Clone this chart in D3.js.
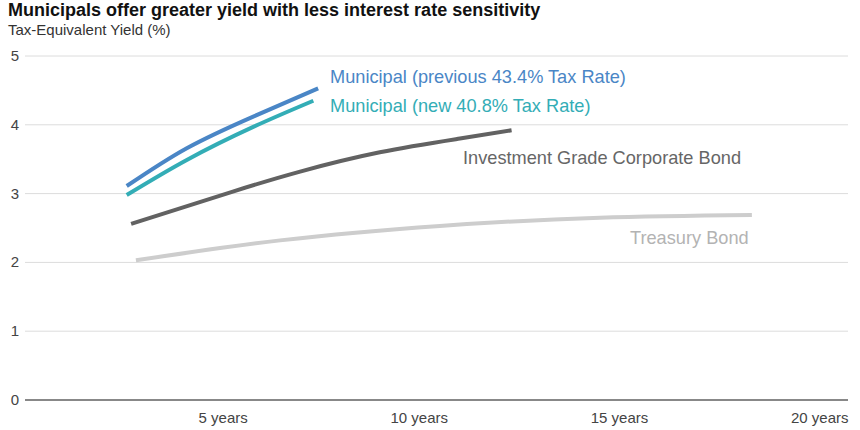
<!DOCTYPE html>
<html><head><meta charset="utf-8">
<script src="https://cdn.jsdelivr.net/npm/d3@7"></script>
<style>body{margin:0;background:#fff}svg{display:block;font-family:"Liberation Sans",Arial,sans-serif}</style>
</head><body><svg id="c" width="860" height="430"></svg>
<script>
const title = "Municipals offer greater yield with less interest rate sensitivity";
const subtitle = "Tax-Equivalent Yield (%)";
const yTicks = [0,1,2,3,4,5];
const xTicks = [5,10,15,20];
const xTickLabels = ["5 years","10 years","15 years","20 years"];

const muniPrev = [[1.99,3.11],[3.49,3.66],[5.15,4.12],[6.77,4.53]];
const muniNew  = [[1.99,2.98],[3.49,3.49],[5.15,3.97],[6.65,4.35]];
const corporate = [[2.1,2.56],[4.64,3.03],[6.32,3.32],[8.31,3.60],[10.31,3.80],[11.6,3.92]];
const treasury = [[2.22,2.03],[5.82,2.32],[9.81,2.53],[13.8,2.65],[17.6,2.69]];

const seriesNames = ["Municipal (previous 43.4% Tax Rate)","Municipal (new 40.8% Tax Rate)","Investment Grade Corporate Bond","Treasury Bond"];
const seriesData = [muniPrev, muniNew, corporate, treasury];
const lineColors = ["#4a86c6","#33adb6","#626262","#cdcdcd"];
const textColors = ["#4a86c6","#33adb6","#666666","#b3b3b3"];
const labelPos = [[330,83],[330,112],[463,164],[630,244]];

const svg = d3.select("#c");
const x = d3.scaleLinear().domain([0,20]).range([47,848]);
const y = d3.scaleLinear().domain([0,5]).range([400,56]);

svg.append("text").attr("x",8).attr("y",16).attr("font-size",18).attr("font-weight","bold").attr("fill","#111").text(title);
svg.append("text").attr("x",8).attr("y",35).attr("font-size",15).attr("fill","#333").text(subtitle);

const g = svg.append("g");
g.selectAll("line.grid").data(yTicks).join("line")
  .attr("x1",25).attr("x2",848)
  .attr("y1",d=>y(d)).attr("y2",d=>y(d))
  .attr("stroke",d=>d===0?"#888":"#dcdcdc")
  .attr("stroke-width",d=>d===0?2:1);
g.selectAll("text.yl").data(yTicks).join("text")
  .attr("x",19).attr("y",d=>y(d)+5).attr("text-anchor","end")
  .attr("font-size",15).attr("fill","#444").text(d=>d);

const xAxis = d3.axisBottom(x).tickValues(xTicks).tickSize(0).tickFormat((d,i)=>xTickLabels[i]);
const xa = svg.append("g").attr("transform","translate(0,409)").call(xAxis);
xa.select(".domain").remove();
xa.selectAll("text").attr("text-anchor","end").attr("font-size",15).attr("fill","#444")
  .attr("font-family","'Liberation Sans',Arial,sans-serif");

const line = d3.line().x(d=>x(d[0])).y(d=>y(d[1])).curve(d3.curveNatural);
svg.selectAll("path.s").data(seriesData).join("path")
  .attr("d",line).attr("fill","none")
  .attr("stroke",(d,i)=>lineColors[i]).attr("stroke-width",4);

svg.selectAll("text.lab").data(seriesNames).join("text")
  .attr("x",(d,i)=>labelPos[i][0]).attr("y",(d,i)=>labelPos[i][1])
  .attr("font-size",18.2).attr("fill",(d,i)=>textColors[i]).text(d=>d);
</script></body></html>
